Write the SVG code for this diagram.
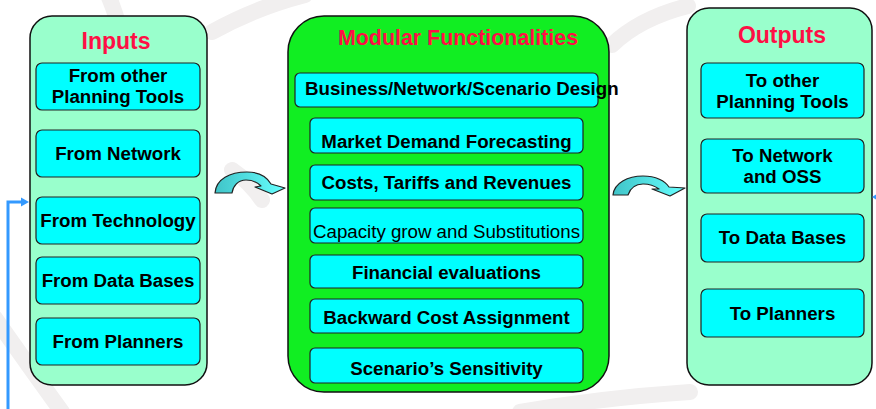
<svg xmlns="http://www.w3.org/2000/svg" width="876" height="409" viewBox="0 0 876 409">
  <defs>
    <style>
      .panel { fill: #99ffcc; stroke: #111; stroke-width: 1.5; }
      .core { fill: #11ee22; stroke: #111; stroke-width: 1.5; }
      .box { fill: #00ffff; stroke: #222; stroke-width: 1.2; }
      .title { font-family: "Liberation Sans", Arial, sans-serif; font-weight: bold; fill: #ff0f45; text-anchor: middle; }
      .lbl { font-family: "Liberation Sans", Arial, sans-serif; font-weight: bold; font-size: 18.7px; fill: #000; text-anchor: middle; }
      .plain { font-weight: normal; }
      .swirl { fill: none; stroke: #f1efef; stroke-width: 16; stroke-linecap: round; }
      .flow { stroke: #222; stroke-width: 1.2; stroke-linejoin: round; }
      .feed { fill: none; stroke: #3399ff; stroke-width: 3; }
    </style>
    <linearGradient id="bend" x1="0" y1="0" x2="1" y2="0">
      <stop offset="0" stop-color="#40c4c8"/>
      <stop offset="1" stop-color="#66ffff"/>
    </linearGradient>
  </defs>

  <rect width="876" height="409" fill="#ffffff"/>

  <!-- faint background swirl -->
  <g id="backdrop">
    <path class="swirl" d="M108,-5 Q128,40 132,120"/>
    <path class="swirl" d="M212,32 Q255,8 305,-5"/>
    <path class="swirl" d="M-5,318 Q28,365 62,412"/>
    <path class="swirl" d="M520,412 Q600,398 690,392"/>
    <path class="swirl" d="M612,45 Q640,18 688,6"/>
    <path class="swirl" d="M232,170 Q250,182 262,200"/>
  </g>

  <!-- Inputs column -->
  <g id="inputs">
    <rect class="panel" x="30" y="16" width="177" height="369" rx="22"/>
    <text class="title" x="116" y="49" font-size="23">Inputs</text>
  </g>
  <g id="in-tools">
    <rect class="box" x="36" y="63" width="164" height="47" rx="6"/>
    <text class="lbl" x="118" y="82">From other</text>
    <text class="lbl" x="118" y="103">Planning Tools</text>
  </g>
  <g id="in-network">
    <rect class="box" x="36" y="130" width="164" height="47" rx="6"/>
    <text class="lbl" x="118" y="160">From Network</text>
  </g>
  <g id="in-technology">
    <rect class="box" x="36" y="197" width="164" height="47" rx="6"/>
    <text class="lbl" x="118" y="227">From Technology</text>
  </g>
  <g id="in-databases">
    <rect class="box" x="36" y="257" width="164" height="47" rx="6"/>
    <text class="lbl" x="118" y="287">From Data Bases</text>
  </g>
  <g id="in-planners">
    <rect class="box" x="36" y="318" width="164" height="47" rx="6"/>
    <text class="lbl" x="118" y="348">From Planners</text>
  </g>

  <!-- Modular functionalities column -->
  <g id="modules">
    <rect class="core" x="288" y="16" width="321" height="376" rx="36"/>
    <text class="title" x="458" y="45" font-size="21.4">Modular Functionalities</text>
  </g>
  <g id="m-design">
    <rect class="box" x="295" y="73" width="303" height="34" rx="5"/>
    <text class="lbl" x="305" y="95" style="text-anchor:start">Business/Network/Scenario Design</text>
  </g>
  <g id="m-demand">
    <rect class="box" x="310" y="118" width="273" height="35" rx="5"/>
    <text class="lbl" x="446.5" y="148">Market Demand Forecasting</text>
  </g>
  <g id="m-costs">
    <rect class="box" x="310" y="165" width="273" height="35" rx="5"/>
    <text class="lbl" x="446.5" y="189">Costs, Tariffs and Revenues</text>
  </g>
  <g id="m-capacity">
    <rect class="box" x="310" y="208" width="273" height="35" rx="5"/>
    <text class="lbl plain" x="446.5" y="238">Capacity grow and Substitutions</text>
  </g>
  <g id="m-financial">
    <rect class="box" x="310" y="255" width="273" height="33" rx="5"/>
    <text class="lbl" x="446.5" y="279">Financial evaluations</text>
  </g>
  <g id="m-backward">
    <rect class="box" x="310" y="299" width="273" height="34" rx="5"/>
    <text class="lbl" x="446.5" y="324">Backward Cost Assignment</text>
  </g>
  <g id="m-sensitivity">
    <rect class="box" x="310" y="348" width="273" height="35" rx="5"/>
    <text class="lbl" x="446.5" y="375">Scenario’s Sensitivity</text>
  </g>

  <!-- Outputs column -->
  <g id="outputs">
    <rect class="panel" x="687" y="8" width="185" height="377" rx="22"/>
    <text class="title" x="782" y="43" font-size="23">Outputs</text>
  </g>
  <g id="out-tools">
    <rect class="box" x="701" y="63" width="163" height="55" rx="6"/>
    <text class="lbl" x="782.5" y="87">To other</text>
    <text class="lbl" x="782.5" y="108">Planning Tools</text>
  </g>
  <g id="out-network">
    <rect class="box" x="701" y="139" width="163" height="54" rx="6"/>
    <text class="lbl" x="782.5" y="162">To Network</text>
    <text class="lbl" x="782.5" y="183">and OSS</text>
  </g>
  <g id="out-databases">
    <rect class="box" x="701" y="214" width="163" height="48" rx="6"/>
    <text class="lbl" x="782.5" y="244">To Data Bases</text>
  </g>
  <g id="out-planners">
    <rect class="box" x="701" y="289" width="163" height="48" rx="6"/>
    <text class="lbl" x="782.5" y="320">To Planners</text>
  </g>

  <!-- connectors -->
  <g id="connectors">
    <!-- curved block arrow: inputs to modules -->
    <path class="flow" fill="url(#bend)" d="M215,193 C216,179 230,172 247,172 C259,172 267,177 271,184 L285,188 L272,194 L255,187 L261,186 C257,182 252,180 246,180 C238,180 233,186 232,193 Z"/>
    <!-- curved block arrow: modules to outputs -->
    <path class="flow" fill="url(#bend)" d="M613,195 C614,183 628,176 643,176 C656,176 665,181 669,187 L685,188 L670,196 L652,189 L659,189 C655,186 650,184 643,184 C635,184 630,189 628,195 Z"/>
    <!-- feedback line into the inputs column -->
    <path class="feed" d="M8,409 L8,202 L22,202"/>
    <polygon points="29,202 21,197.5 21,206.5" fill="#3399ff"/>
    <polygon points="872,197 877,194 877,200" fill="#3399ff"/>
  </g>
</svg>
